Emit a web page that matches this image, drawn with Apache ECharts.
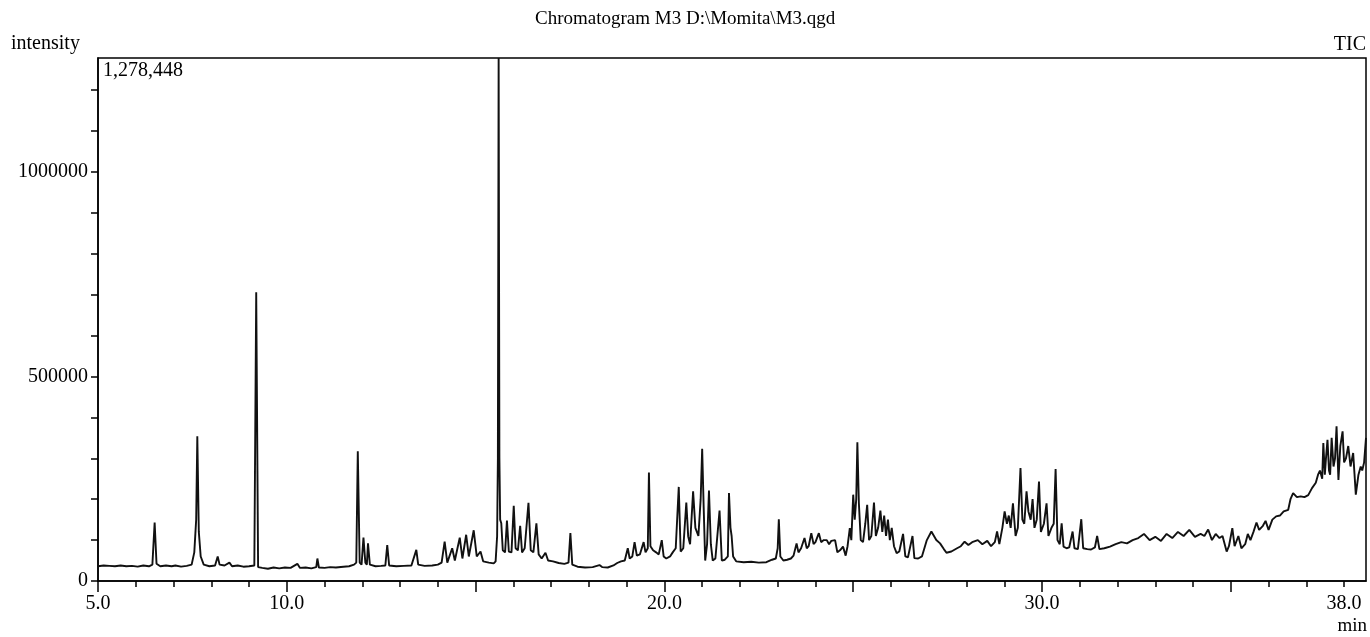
<!DOCTYPE html>
<html>
<head>
<meta charset="utf-8">
<script src="https://cdn.jsdelivr.net/npm/echarts@6/dist/echarts.min.js"></script>
<style>
html,body{margin:0;padding:0;background:#fff;}
#chart{width:1370px;height:637px;}
</style>
</head>
<body>
<div id="chart"></div>
<script>
// ---- data (retention time in min, TIC intensity) ----
const times = [
 5.00,5.15,5.30,5.45,5.60,5.75,5.90,6.05,6.20,6.35,6.44,6.50,6.55,6.65,6.80,6.95,7.05,7.20,7.35,7.48,
 7.55,7.60,7.63,7.67,7.72,7.80,7.95,8.10,8.17,8.22,8.35,8.48,8.55,8.70,8.85,9.00,9.14,9.19,9.24,9.35,
 9.50,9.65,9.80,9.95,10.10,10.28,10.35,10.50,10.65,10.78,10.81,10.85,11.00,11.15,11.30,11.50,11.65,11.78,11.84,11.88,
 11.93,11.98,12.03,12.08,12.12,12.15,12.20,12.35,12.50,12.61,12.66,12.71,12.90,13.10,13.30,13.43,13.48,13.65,13.85,14.00,
 14.10,14.18,14.25,14.38,14.45,14.58,14.65,14.75,14.82,14.95,15.03,15.13,15.20,15.35,15.48,15.53,15.57,15.59,15.61,15.63,
 15.65,15.68,15.72,15.78,15.83,15.88,15.95,16.01,16.06,16.12,16.18,16.23,16.30,16.40,16.46,16.53,16.61,16.67,16.75,16.85,
 16.92,17.05,17.20,17.35,17.46,17.51,17.56,17.70,17.90,18.10,18.28,18.35,18.50,18.65,18.75,18.85,18.95,19.03,19.08,19.15,
 19.21,19.27,19.35,19.45,19.50,19.56,19.59,19.63,19.70,19.78,19.85,19.93,19.98,20.05,20.15,20.22,20.30,20.38,20.43,20.50,
 20.58,20.63,20.68,20.76,20.82,20.90,20.96,21.00,21.04,21.08,21.13,21.18,21.23,21.28,21.35,21.46,21.52,21.60,21.68,21.71,
 21.75,21.78,21.82,21.90,22.10,22.30,22.50,22.70,22.85,22.95,23.00,23.03,23.07,23.15,23.25,23.35,23.42,23.50,23.55,23.62,
 23.71,23.77,23.82,23.89,23.95,24.00,24.09,24.15,24.22,24.30,24.36,24.42,24.52,24.58,24.65,24.73,24.80,24.85,24.91,24.95,
 25.00,25.04,25.08,25.11,25.15,25.20,25.26,25.32,25.37,25.42,25.48,25.55,25.60,25.66,25.72,25.77,25.82,25.87,25.92,25.97,
 26.02,26.08,26.15,26.22,26.32,26.38,26.45,26.57,26.62,26.72,26.82,26.95,27.07,27.20,27.30,27.40,27.47,27.60,27.75,27.85,
 27.95,28.05,28.15,28.30,28.42,28.55,28.65,28.75,28.81,28.87,28.95,29.01,29.07,29.12,29.17,29.23,29.30,29.36,29.43,29.48,
 29.53,29.59,29.64,29.70,29.75,29.80,29.86,29.92,29.97,30.05,30.12,30.17,30.25,30.31,30.36,30.41,30.47,30.52,30.57,30.65,
 30.72,30.81,30.86,30.95,31.04,31.09,31.20,31.30,31.40,31.46,31.52,31.65,31.80,31.95,32.10,32.25,32.40,32.55,32.70,32.85,
 33.00,33.15,33.30,33.45,33.60,33.75,33.90,34.05,34.20,34.30,34.40,34.50,34.60,34.70,34.78,34.89,34.95,35.04,35.10,35.20,
 35.28,35.38,35.45,35.52,35.60,35.68,35.75,35.85,35.92,36.00,36.10,36.20,36.30,36.40,36.52,36.58,36.65,36.75,36.85,36.95,
 37.05,37.15,37.25,37.31,37.36,37.42,37.45,37.49,37.52,37.56,37.60,37.63,37.67,37.72,37.76,37.80,37.85,37.90,37.96,38.00,
 38.05,38.11,38.17,38.24,38.31,38.38,38.44,38.48,38.53,38.58
];
const intensity = [
 36000,38000,37000,36000,38000,36000,37000,35000,38000,36000,40000,143000,42000,36000,38000,36000,38000,35000,37000,40000,
 70000,150000,354000,120000,60000,40000,36000,38000,60000,40000,38000,45000,36000,38000,35000,36000,38000,706000,34000,32000,
 30000,33000,31000,33000,32000,42000,32000,33000,31000,34000,55000,33000,32000,34000,33000,35000,36000,40000,45000,317000,
 45000,40000,106000,45000,40000,92000,40000,36000,37000,38000,88000,38000,36000,37000,38000,76000,40000,37000,38000,40000,
 45000,96000,45000,80000,50000,106000,55000,113000,60000,124000,60000,72000,48000,45000,43000,48000,110000,300000,1278448,300000,
 150000,141000,75000,70000,148000,72000,70000,184000,80000,75000,135000,70000,80000,191000,75000,70000,141000,65000,55000,69000,
 50000,48000,44000,42000,45000,117000,40000,35000,33000,34000,39000,34000,33000,38000,44000,48000,50000,80000,55000,60000,
 95000,62000,65000,95000,70000,80000,265000,85000,75000,70000,65000,100000,60000,55000,60000,70000,80000,230000,72000,80000,
 192000,109000,90000,219000,130000,110000,200000,323000,180000,50000,90000,221000,90000,50000,55000,172000,50000,52000,60000,215000,
 130000,110000,60000,48000,46000,47000,45000,46000,52000,55000,80000,151000,60000,50000,52000,55000,62000,92000,70000,80000,
 105000,80000,85000,117000,90000,95000,117000,95000,100000,100000,90000,98000,100000,70000,75000,84000,62000,85000,129000,100000,
 211000,150000,200000,339000,190000,100000,95000,140000,186000,100000,110000,192000,110000,130000,172000,120000,160000,110000,150000,100000,
 130000,85000,68000,72000,115000,60000,58000,110000,56000,55000,60000,100000,121000,100000,92000,78000,69000,72000,80000,85000,
 96000,88000,95000,100000,90000,98000,85000,95000,121000,90000,130000,170000,140000,160000,130000,190000,110000,130000,276000,150000,
 140000,219000,170000,150000,200000,130000,150000,243000,120000,140000,190000,110000,130000,140000,274000,100000,90000,141000,84000,80000,
 82000,121000,80000,78000,151000,80000,78000,77000,82000,110000,78000,80000,84000,90000,95000,92000,100000,105000,115000,100000,
 108000,98000,115000,105000,120000,110000,125000,108000,115000,110000,126000,100000,115000,105000,110000,72000,85000,129000,85000,110000,
 80000,90000,115000,100000,120000,143000,125000,135000,147000,125000,150000,158000,160000,170000,174000,200000,215000,205000,207000,205000,
 210000,227000,240000,260000,270000,250000,337000,260000,300000,345000,270000,260000,350000,280000,300000,378000,247000,330000,366000,290000,
 300000,330000,280000,313000,211000,260000,280000,270000,290000,350000
];
const xTickValues = [5,6,7,8,9,10,11,12,13,14,15,16,17,18,19,20,21,22,23,24,25,26,27,28,29,30,31,32,33,34,35,36,37,38];
const xMajorTickValues = [5,10,15,20,25,30,35];
const xLabelValues = [5,10,20,30,38];
const yTickValues = [0,100000,200000,300000,400000,500000,600000,700000,800000,900000,1000000,1100000,1200000];
const yLabelValues = [0,500000,1000000];
const peakMaxLabel = '1,278,448';

const points = times.map((t, i) => [t, intensity[i]]);
const FONT = '"Liberation Serif", "DejaVu Serif", serif';

const chart = echarts.init(document.getElementById('chart'), null, {renderer: 'canvas'});
chart.setOption({
  animation: false,
  backgroundColor: '#fff',
  grid: {left: 98, right: 4, top: 58, bottom: 56, show: true, borderColor: '#000', borderWidth: 1.5, backgroundColor: 'transparent'},
  xAxis: [{
    type: 'value', min: 5, max: 38.58,
    axisLine: {show: true, lineStyle: {color: '#000', width: 1.5}},
    axisTick: {show: true, length: 6, customValues: xTickValues, lineStyle: {color: '#000', width: 1.5}},
    axisLabel: {customValues: xLabelValues, formatter: v => Number(v).toFixed(1), color: '#000',
      fontFamily: FONT, fontSize: 20, margin: 13},
    splitLine: {show: false}
  }, {
    type: 'value', min: 5, max: 38.58, position: 'bottom', gridIndex: 0,
    axisLine: {show: false},
    axisTick: {show: true, length: 11, customValues: xMajorTickValues, lineStyle: {color: '#000', width: 1.5}},
    axisLabel: {show: false},
    splitLine: {show: false}
  }],
  yAxis: {
    type: 'value', min: 0, max: 1278448,
    axisLine: {show: true, lineStyle: {color: '#000', width: 1.5}},
    axisTick: {show: true, length: 7, customValues: yTickValues, lineStyle: {color: '#000', width: 1.5}},
    axisLabel: {customValues: yLabelValues, formatter: v => String(Math.round(v)), color: '#000',
      fontFamily: FONT, fontSize: 20, margin: 10},
    splitLine: {show: false}
  },
  series: [{
    type: 'line', xAxisIndex: 0, yAxisIndex: 0, data: points,
    showSymbol: false, symbol: 'none',
    lineStyle: {color: '#111', width: 1.9}, clip: true
  }],
  graphic: [
    {type: 'text', left: 535, top: 10, style: {text: 'Chromatogram M3 D:\\Momita\\M3.qgd', font: '19px ' + FONT, fill: '#000'}},
    {type: 'text', left: 11, top: 34, style: {text: 'intensity', font: '20px ' + FONT, fill: '#000'}},
    {type: 'text', left: 103, top: 61, style: {text: peakMaxLabel, font: '20px ' + FONT, fill: '#000'}},
    {type: 'text', right: 4, top: 35, style: {text: 'TIC', font: '20px ' + FONT, fill: '#000'}},
    {type: 'text', right: 3, top: 617, style: {text: 'min', font: '19px ' + FONT, fill: '#000'}}
  ]
});
</script>
</body>
</html>
